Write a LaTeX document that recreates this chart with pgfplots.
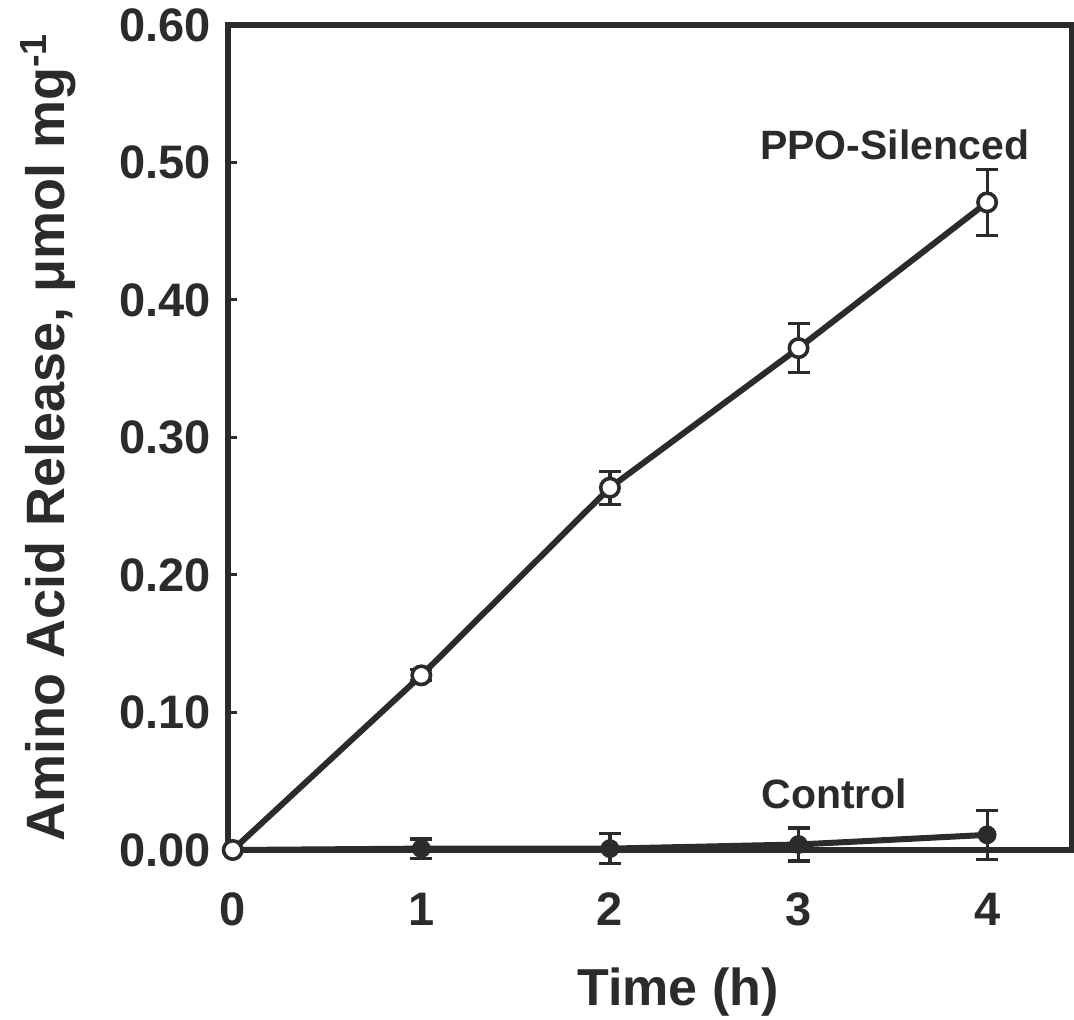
\documentclass[border=0pt]{standalone}
\usepackage{pgfplots}
\pgfplotsset{compat=1.18}
\usepackage{fontspec}
\setmainfont{Liberation Sans}
\definecolor{ink}{HTML}{2B2B2B}
\begin{document}
\begin{tikzpicture}
\begin{axis}[
  at={(0,0)}, anchor=south west,
  scale only axis,
  width=422pt, height=412.5pt,
  xmin=-0.025, xmax=4.45, ymin=0, ymax=0.60,
  xtick={0,1,2,3,4}, ytick={0,0.1,0.2,0.3,0.4,0.5,0.6},
  xtick pos=bottom, ytick pos=left,
  tick align=inside, major tick length=4.5pt,
  tick style={line width=1.5pt, color=ink},
  axis line style={line width=2.6pt, color=ink},
  every tick label/.append style={font=\bfseries\fontsize{23.5}{23.5}\selectfont, text=ink},
  /pgf/number format/assume math mode=true,
  yticklabel style={/pgf/number format/fixed, /pgf/number format/fixed zerofill, /pgf/number format/precision=2, xshift=-5pt},
  xticklabel style={yshift=-18pt},
  xlabel={Time (h)},
  ylabel={Amino Acid Release, μmol mg\textsuperscript{-1}},
  xlabel style={at={(axis description cs:0.533,-0.172)}, anchor=center, font=\bfseries\fontsize{26}{26}\selectfont, text=ink},
  ylabel style={at={(axis description cs:-0.2135,0.5)}, anchor=center, font=\bfseries\fontsize{27}{27}\selectfont, text=ink},
  clip=false,
]
\addplot[color=ink, line width=3pt, mark=*, mark size=4.2pt, mark options={fill=ink, line width=1pt},
  error bars/.cd, y dir=both, y explicit, error bar style={line width=1.6pt, color=ink}, error mark options={rotate=90, mark size=5.5pt, line width=1.6pt, color=ink}]
coordinates {
 (1,0.001) +- (0,0.007)
 (2,0.001) +- (0,0.011)
 (3,0.004) +- (0,0.012)
 (4,0.011) +- (0,0.018)
};
\addplot[color=ink, line width=3pt, mark=none] coordinates {(0,0) (1,0.001)};
\addplot[color=ink, line width=3pt, mark=*, mark size=4.6pt, mark options={fill=white, draw=ink, line width=1.8pt},
  error bars/.cd, y dir=both, y explicit, error bar style={line width=1.6pt, color=ink}, error mark options={rotate=90, mark size=5.5pt, line width=1.6pt, color=ink}]
coordinates {
 (0,0) +- (0,0)
 (1,0.127) +- (0,0.004)
 (2,0.2635) +- (0,0.012)
 (3,0.365) +- (0,0.018)
 (4,0.471) +- (0,0.024)
};
\node[font=\bfseries\fontsize{20.5}{20.5}\selectfont, text=ink] at (axis cs:3.51,0.513) {PPO-Silenced};
\node[font=\bfseries\fontsize{20.5}{20.5}\selectfont, text=ink] at (axis cs:3.19,0.041) {Control};
\end{axis}
\pgfresetboundingbox
\path (-114pt,-85pt) rectangle (423pt,425pt);
\end{tikzpicture}
\end{document}
